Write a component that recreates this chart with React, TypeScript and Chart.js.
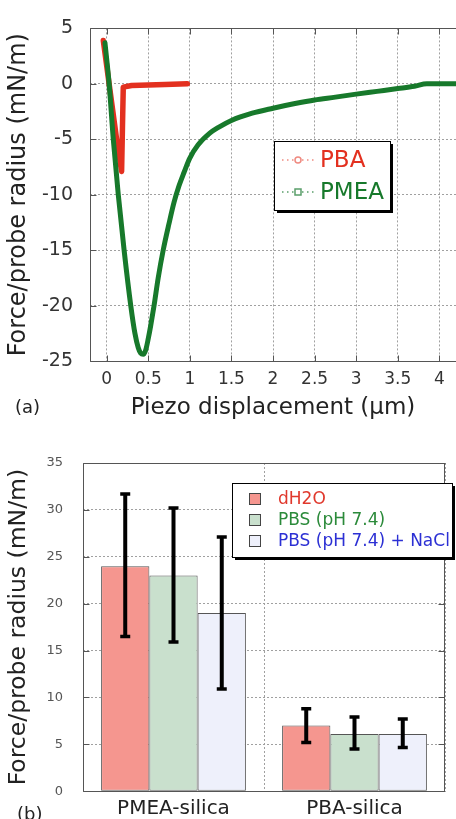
import React, { useEffect, useRef } from 'react';
import { Chart, registerables } from 'chart.js';

Chart.register(...registerables);

const FONT = '"DejaVu Sans", "Liberation Sans", sans-serif';

// ---------- (a) force curves ----------
const pmeaName = 'PMEA';
const pmeaX = [-0.02, 0.03, 0.08, 0.14, 0.21, 0.29, 0.34, 0.38, 0.41, 0.44, 0.47, 0.5, 0.53, 0.57, 0.62, 0.68, 0.75, 0.81, 0.87, 0.93, 1.0, 1.1, 1.24, 1.35, 1.5, 1.75, 2.0, 2.25, 2.5, 2.75, 3.0, 3.25, 3.5, 3.7, 3.85, 4.0, 4.2];
const pmeaY = [3.7, 0, -5, -10, -15, -20, -22.5, -23.8, -24.3, -24.4, -24.0, -23.0, -21.8, -20.0, -17.5, -15.0, -12.6, -10.7, -9.2, -8.0, -6.7, -5.5, -4.45, -3.9, -3.3, -2.65, -2.2, -1.8, -1.45, -1.2, -0.93, -0.68, -0.43, -0.22, 0, 0, 0];

const pbaName = 'PBA';
const pbaX = [-0.04, 0.03, 0.12, 0.18, 0.19, 0.2, 0.3, 0.5, 0.7, 0.97];
const pbaY = [3.9, 0.0, -5.0, -7.9, -4.0, -0.3, -0.15, -0.1, -0.05, 0.0];

const xTickValues = [0, 0.5, 1, 1.5, 2, 2.5, 3, 3.5, 4];
const yTickStepA = 5;

// ---------- (b) bar chart ----------
const categories = ['PMEA-silica', 'PBA-silica'];
const seriesNames = ['dH2O', 'PBS (pH 7.4)', 'PBS (pH 7.4) + NaCl'];
const dH2O = [24.0, 7.0];
const pbs = [23.0, 6.1];
const pbsNaCl = [19.0, 6.1];
const dH2OLow = [16.5, 5.2];
const dH2OHigh = [31.7, 8.8];
const pbsLow = [15.9, 4.5];
const pbsHigh = [30.2, 7.9];
const pbsNaClLow = [10.9, 4.65];
const pbsNaClHigh = [27.1, 7.7];

const RED = '#e3301f';
const GREEN = '#17792b';

const BAR_FILL = ['#f5968f', '#c9e0cd', '#eef0fb'];
const BAR_TEXT = ['#e0382c', '#2b8a3a', '#2c30d4'];

const framePlugin = (id: string, drawRight: boolean, xTicks: boolean) => ({
  id,
  afterDatasetsDraw(chart: any) {
    const { ctx, chartArea: a, scales } = chart;
    const L = Math.round(a.left) + 0.5;
    const R = Math.round(a.right) - 0.5;
    const T = Math.round(a.top) + 0.5;
    const B = Math.round(a.bottom) + 0.5;
    ctx.save();
    ctx.strokeStyle = '#555';
    ctx.lineWidth = 1;
    ctx.setLineDash([]);
    ctx.beginPath();
    ctx.moveTo(L, T); ctx.lineTo(R + 1, T);
    ctx.moveTo(L, T); ctx.lineTo(L, B);
    ctx.moveTo(L, B); ctx.lineTo(R + 1, B);
    if (drawRight) { ctx.moveTo(R, T); ctx.lineTo(R, B); }
    const tl = 6;
    const ys = scales.y;
    ys.ticks.forEach((t: any) => {
      const y = Math.round(ys.getPixelForValue(t.value)) + 0.5;
      ctx.moveTo(L, y); ctx.lineTo(L + tl, y);
      if (drawRight) { ctx.moveTo(R, y); ctx.lineTo(R - tl, y); }
    });
    if (xTicks) {
      const xs = scales.x;
      xs.ticks.forEach((t: any) => {
        const x = Math.round(xs.getPixelForValue(t.value)) + 0.5;
        ctx.moveTo(x, B); ctx.lineTo(x, B - tl);
        ctx.moveTo(x, T); ctx.lineTo(x, T + tl);
      });
    }
    ctx.stroke();
    ctx.restore();
  },
});

const legendAPlugin = {
  id: 'legendA',
  afterDraw(chart: any) {
    const { ctx } = chart;
    const bx = 274, by = 141, bw = 116, bh = 69;
    ctx.save();
    ctx.fillStyle = '#000';
    ctx.fillRect(bx + 3, by + 3, bw, bh);
    ctx.fillStyle = '#fff';
    ctx.fillRect(bx, by, bw, bh);
    ctx.strokeStyle = '#000';
    ctx.lineWidth = 1;
    ctx.strokeRect(bx + 0.5, by + 0.5, bw, bh);
    const ds = chart.data.datasets;
    const order = [1, 0];
    order.forEach((di, r) => {
      const d = ds[di];
      const y = by + 19 + r * 32;
      ctx.strokeStyle = d.legendLight;
      ctx.lineWidth = 1.5;
      ctx.setLineDash([1.5, 3.5]);
      ctx.beginPath();
      ctx.moveTo(bx + 8, y); ctx.lineTo(bx + 43, y);
      ctx.stroke();
      ctx.setLineDash([]);
      ctx.fillStyle = '#fff';
      ctx.strokeStyle = d.legendLight;
      ctx.lineWidth = 1.5;
      if (r === 0) {
        ctx.beginPath(); ctx.arc(bx + 24, y, 3, 0, Math.PI * 2); ctx.fill(); ctx.stroke();
      } else {
        ctx.fillRect(bx + 21, y - 3, 6, 6); ctx.strokeRect(bx + 21, y - 3, 6, 6);
      }
      ctx.fillStyle = d.borderColor;
      ctx.font = `23px ${FONT}`;
      ctx.textBaseline = 'middle';
      ctx.textAlign = 'left';
      ctx.fillText(d.label, bx + 46, y + 1);
    });
    ctx.restore();
  },
};

const errorLow = [dH2OLow, pbsLow, pbsNaClLow];
const errorHigh = [dH2OHigh, pbsHigh, pbsNaClHigh];

const errorBarPlugin = {
  id: 'errorBars',
  afterDatasetsDraw(chart: any) {
    const { ctx, scales } = chart;
    const ys = scales.y;
    ctx.save();
    ctx.strokeStyle = '#000';
    ctx.lineCap = 'butt';
    chart.data.datasets.forEach((_d: any, i: number) => {
      const meta = chart.getDatasetMeta(i);
      meta.data.forEach((el: any, j: number) => {
        const x = el.x;
        const yl = ys.getPixelForValue(errorLow[i][j]);
        const yh = ys.getPixelForValue(errorHigh[i][j]);
        ctx.lineWidth = 4;
        ctx.beginPath();
        ctx.moveTo(x, yl); ctx.lineTo(x, yh);
        ctx.stroke();
        ctx.lineWidth = 3.5;
        ctx.beginPath();
        ctx.moveTo(x - 5, yl); ctx.lineTo(x + 5, yl);
        ctx.moveTo(x - 5, yh); ctx.lineTo(x + 5, yh);
        ctx.stroke();
      });
    });
    ctx.restore();
  },
};

const legendBPlugin = {
  id: 'legendB',
  afterDraw(chart: any) {
    const { ctx } = chart;
    const bx = 232, by = 63, bw = 220, bh = 74;
    ctx.save();
    ctx.fillStyle = '#000';
    ctx.fillRect(bx + 3, by + 3, bw, bh);
    ctx.fillStyle = '#fff';
    ctx.fillRect(bx, by, bw, bh);
    ctx.strokeStyle = '#000';
    ctx.lineWidth = 1;
    ctx.strokeRect(bx + 0.5, by + 0.5, bw, bh);
    chart.data.datasets.forEach((d: any, i: number) => {
      const y = by + 16 + i * 21;
      ctx.fillStyle = d.backgroundColor;
      ctx.fillRect(bx + 17, y - 6, 12, 12);
      ctx.strokeStyle = '#444';
      ctx.strokeRect(bx + 17.5, y - 5.5, 11, 11);
      ctx.fillStyle = d.textColor;
      ctx.font = `17px ${FONT}`;
      ctx.textBaseline = 'middle';
      ctx.textAlign = 'left';
      ctx.fillText(d.label, bx + 46, y + 1);
    });
    ctx.restore();
  },
};

export default function App() {
  const c1 = useRef<HTMLCanvasElement>(null);
  const c2 = useRef<HTMLCanvasElement>(null);

  useEffect(() => {
    const chartA = new Chart(c1.current as HTMLCanvasElement, {
      type: 'line',
      data: {
        datasets: [
          {
            label: pmeaName,
            data: pmeaX.map((x, i) => ({ x, y: pmeaY[i] })),
            borderColor: GREEN,
            borderWidth: 5,
            pointRadius: 0,
            cubicInterpolationMode: 'monotone',
            borderCapStyle: 'round',
            borderJoinStyle: 'round',
            legendLight: '#5a9e6a',
          } as any,
          {
            label: pbaName,
            data: pbaX.map((x, i) => ({ x, y: pbaY[i] })),
            borderColor: RED,
            borderWidth: 5.5,
            pointRadius: 0,
            tension: 0,
            borderCapStyle: 'round',
            borderJoinStyle: 'round',
            legendLight: '#ef8a80',
          } as any,
        ],
      },
      options: {
        animation: false,
        responsive: false,
        devicePixelRatio: 1,
        layout: { padding: { top: 24, right: 0, left: 0, bottom: 0 } },
        plugins: { legend: { display: false }, tooltip: { enabled: false } },
        scales: {
          x: {
            type: 'linear',
            min: -0.2,
            max: 4.2,
            afterBuildTicks: (s: any) => {
              s.ticks = xTickValues.map((v) => ({ value: v }));
            },
            afterFit: (s: any) => {
              s.height = 59;
            },
            grid: { color: '#a0a0a0', drawTicks: false, lineWidth: 1 },
            border: { display: false, dash: [2, 2] },
            ticks: {
              padding: 8,
              color: '#333',
              autoSkip: false,
              maxRotation: 0,
              font: { family: FONT, size: 17 },
              callback: (v: any) => String(v),
            },
            title: {
              display: true,
              text: 'Piezo displacement (μm)',
              color: '#222',
              font: { family: FONT, size: 23, lineHeight: 1 },
              padding: { top: 0, bottom: 0 },
            },
          },
          y: {
            min: -25,
            max: 5,
            afterFit: (s: any) => {
              s.width = 90;
            },
            grid: { color: '#a0a0a0', drawTicks: false, lineWidth: 1 },
            border: { display: false, dash: [2, 2] },
            ticks: {
              stepSize: yTickStepA,
              padding: 17,
              color: '#333',
              font: { family: FONT, size: 19 },
            },
            title: {
              display: true,
              text: 'Force/probe radius (mN/m)',
              color: '#222',
              font: { family: FONT, size: 24, lineHeight: 1 },
              padding: { top: 7, bottom: 0 },
            },
          },
        },
      } as any,
      plugins: [framePlugin('frameA', false, true), legendAPlugin],
    });

    const values = [dH2O, pbs, pbsNaCl];
    const chartB = new Chart(c2.current as HTMLCanvasElement, {
      type: 'bar',
      data: {
        labels: categories,
        datasets: seriesNames.map((name, i) => ({
          label: name,
          data: values[i],
          backgroundColor: BAR_FILL[i],
          borderColor: '#555',
          borderWidth: 1,
          borderSkipped: false,
          categoryPercentage: 0.8,
          barPercentage: 1.0,
          textColor: BAR_TEXT[i],
        })) as any,
      },
      options: {
        animation: false,
        responsive: false,
        devicePixelRatio: 1,
        layout: { padding: { top: 43, right: 11, left: 0, bottom: 0 } },
        plugins: { legend: { display: false }, tooltip: { enabled: false } },
        scales: {
          x: {
            afterFit: (s: any) => {
              s.height = 25;
            },
            grid: { color: '#a0a0a0', drawTicks: false, offset: true },
            border: { display: false, dash: [2, 2] },
            ticks: {
              padding: 6,
              color: '#222',
              font: { family: FONT, size: 20 },
            },
          },
          y: {
            min: 0,
            max: 35,
            afterFit: (s: any) => {
              s.width = 83;
            },
            grid: { color: '#a0a0a0', drawTicks: false },
            border: { display: false, dash: [2, 2] },
            ticks: {
              stepSize: 5,
              padding: 20,
              color: '#555',
              font: { family: FONT, size: 13 },
            },
            title: {
              display: true,
              text: 'Force/probe radius (mN/m)',
              color: '#222',
              font: { family: FONT, size: 23.5, lineHeight: 1 },
              padding: { top: 7, bottom: 0 },
            },
          },
        },
      } as any,
      plugins: [framePlugin('frameB', true, false), errorBarPlugin, legendBPlugin],
    });

    return () => {
      chartA.destroy();
      chartB.destroy();
    };
  }, []);

  const labelStyle: React.CSSProperties = {
    position: 'absolute',
    fontFamily: FONT,
    fontSize: 18,
    lineHeight: '20px',
    color: '#222',
    margin: 0,
  };

  return (
    <div style={{ position: 'absolute', left: 0, top: 0, width: 456, height: 819, overflow: 'hidden', background: '#fff' }}>
      <canvas ref={c1} width={456} height={420} style={{ position: 'absolute', left: 0, top: 0 }} />
      <canvas ref={c2} width={456} height={399} style={{ position: 'absolute', left: 0, top: 420 }} />
      <div style={{ ...labelStyle, left: 15, top: 397 }}>(a)</div>
      <div style={{ ...labelStyle, left: 17, top: 804 }}>(b)</div>
    </div>
  );
}
